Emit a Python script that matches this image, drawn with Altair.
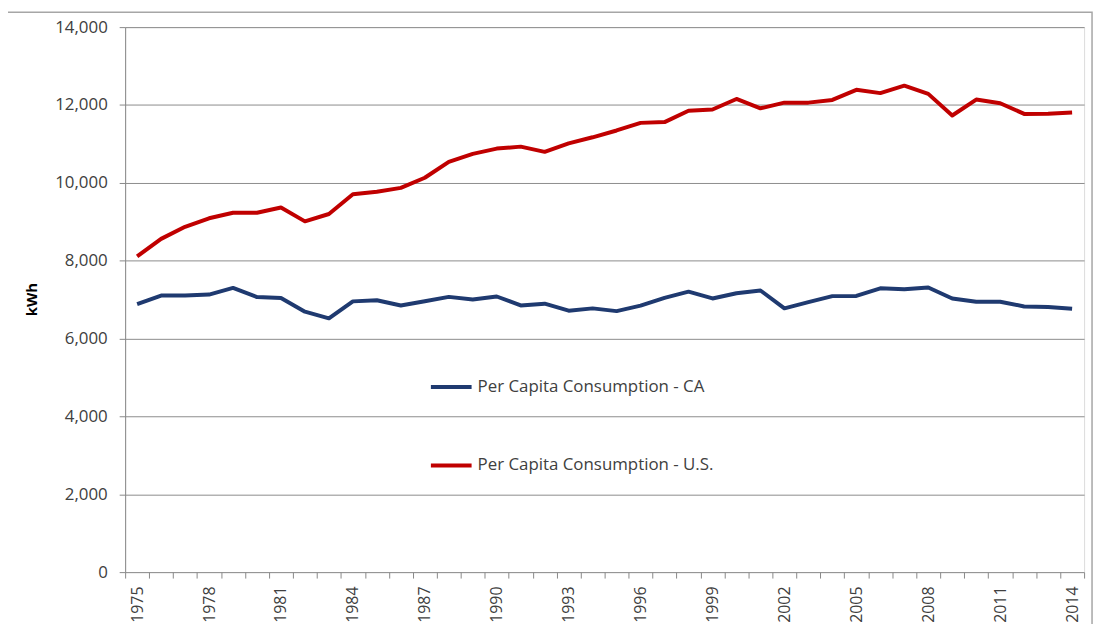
import altair as alt
import pandas as pd

years = list(range(1975, 2015))
us = [8110, 8560, 8870, 9090, 9230, 9230, 9365, 9010, 9200, 9705,
      9770, 9870, 10130, 10540, 10745, 10880, 10930, 10795, 11015, 11170,
      11345, 11540, 11560, 11850, 11885, 12155, 11915, 12060, 12060, 12130,
      12390, 12305, 12495, 12285, 11730, 12140, 12045, 11770, 11775, 11805]
ca = [6885, 7105, 7105, 7130, 7300, 7065, 7040, 6690, 6520, 6955,
      6985, 6850, 6960, 7070, 7005, 7080, 6850, 6895, 6715, 6775,
      6705, 6845, 7045, 7205, 7030, 7165, 7235, 6775, 6935, 7090,
      7095, 7290, 7265, 7310, 7030, 6945, 6945, 6825, 6810, 6765]
series_names = ["Per Capita Consumption - CA", "Per Capita Consumption - U.S."]
series_colors = ["#1F3A70", "#C00000"]
y_ticks = list(range(0, 14001, 2000))

rows = []
for i, y in enumerate(years):
    rows.append({"year": str(y), "series": series_names[0], "kwh": ca[i], "order": 0})
    rows.append({"year": str(y), "series": series_names[1], "kwh": us[i], "order": 1})
df = pd.DataFrame(rows)

FONT = "Open Sans"

lines = alt.Chart(df).mark_line(strokeWidth=4, strokeJoin="round").encode(
    x=alt.X("year:O", sort=[str(y) for y in years],
            scale=alt.Scale(paddingInner=0, paddingOuter=0),
            axis=alt.Axis(title=None, values=[str(y) for y in years],
                          labelExpr="(toNumber(datum.value) - 1975) % 3 == 0 ? datum.value : ''",
                          labelAngle=270, labelFontSize=16, labelColor="#404040",
                          labelFont=FONT, tickSize=6, tickColor="#888888",
                          tickBand="extent", labelPadding=8, domain=False, grid=False,
                          labelOverlap=False)),
    y=alt.Y("kwh:Q", scale=alt.Scale(domain=[0, 14000], nice=False),
            axis=alt.Axis(title="kWh", values=y_ticks, format=",.0f",
                          labelFontSize=17, labelColor="#404040", labelFont=FONT,
                          labelPadding=12, tickSize=6, tickColor="#888888",
                          domainColor="#888888", gridColor="#8C8C8C",
                          titleFont=FONT, titleFontSize=15, titleFontWeight="bold",
                          titleColor="#000000", titleAngle=270, titleX=-94,
                          titleY=274, titleBaseline="middle", titleAlign="center")),
    color=alt.Color("series:N", scale=alt.Scale(domain=series_names, range=series_colors),
                    legend=alt.Legend(title=None, orient="none", legendX=306, legendY=340,
                                      symbolType="stroke", symbolSize=1681,
                                      symbolStrokeWidth=4, labelFontSize=17,
                                      labelFont=FONT, labelColor="#404040",
                                      labelLimit=500, labelOffset=4, rowPadding=48,
                                      direction="vertical")),
    order="order:Q",
    detail="series:N",
)

frame = alt.Chart(pd.DataFrame({"a": [0]})).mark_rect(
    fill=None, stroke="#A6A6A6", strokeWidth=1.5, clip=False
).encode(x=alt.value(-122), x2=alt.value(974), y=alt.value(-15), y2=alt.value(605))

chart = alt.layer(frame, lines).properties(
    width=966, height=549,
    autosize=alt.AutoSizeParams(type="none"),
    padding={"left": 118, "top": 17, "right": 13, "bottom": 50},
).configure_view(stroke=None).configure(background="white")

chart.save("out.html", embed_options={"renderer": "svg", "actions": False})
